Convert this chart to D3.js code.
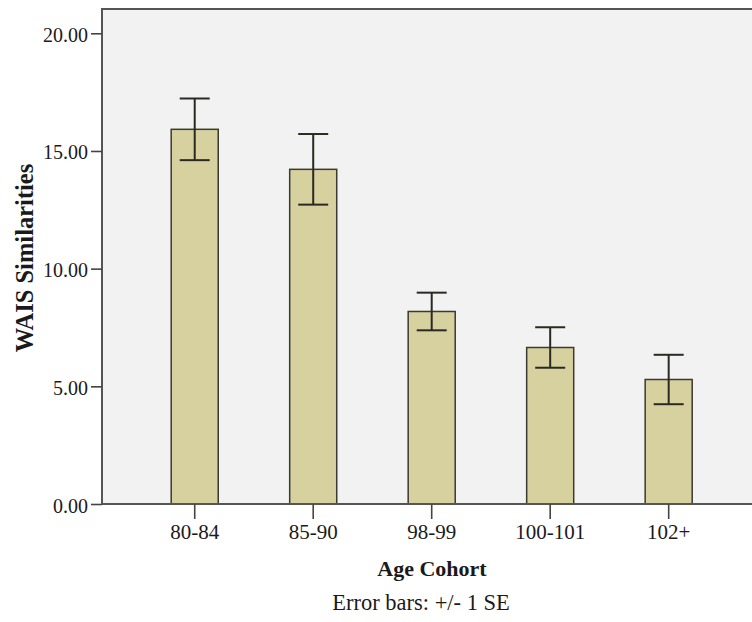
<!DOCTYPE html>
<html>
<head>
<meta charset="utf-8">
<script src="https://cdn.jsdelivr.net/npm/d3@7/dist/d3.min.js"></script>
<style>
  html, body { margin: 0; padding: 0; background: #ffffff; }
  svg { display: block; }
  text { font-family: "Liberation Serif", "Times New Roman", serif; fill: #1a1a1a; }
</style>
</head>
<body>
<svg id="chart" width="752" height="622"></svg>
<script>
// Mean WAIS Similarities score per age cohort, with standard errors
const cohorts = ["80-84", "85-90", "98-99", "100-101", "102+"];
const means = [15.92, 14.22, 8.18, 6.65, 5.29];
const stdErrors = [1.31, 1.50, 0.80, 0.86, 1.05];
const yTicks = [0, 5, 10, 15, 20];

const svg = d3.select("#chart");

const plot = { left: 102, top: 9, bottom: 504, right: 761.4 };

const x = d3.scaleBand()
  .domain(cohorts)
  .range([plot.left, plot.right])
  .paddingInner(0.603)
  .paddingOuter(0.584);

const y = d3.scaleLinear()
  .domain([0, 20])
  .range([plot.bottom, 33.3]);

// plot background
svg.append("rect")
  .attr("x", plot.left)
  .attr("y", plot.top)
  .attr("width", plot.right - plot.left)
  .attr("height", plot.bottom - plot.top)
  .attr("fill", "#f2f2f2");

const data = cohorts.map((c, i) => ({ cohort: c, mean: means[i], se: stdErrors[i] }));

// bars
svg.append("g")
  .selectAll("rect")
  .data(data)
  .join("rect")
  .attr("x", d => x(d.cohort))
  .attr("y", d => y(d.mean))
  .attr("width", x.bandwidth())
  .attr("height", d => y(0) - y(d.mean))
  .attr("fill", "#d6d19e")
  .attr("stroke", "#3a3a30")
  .attr("stroke-width", 1.5);

// error bars (+/- 1 SE)
const capHalf = 15;
const eb = svg.append("g")
  .attr("stroke", "#2a2a22")
  .attr("stroke-width", 2)
  .attr("fill", "none");

data.forEach(d => {
  const cx = x(d.cohort) + x.bandwidth() / 2;
  const yTop = y(d.mean + d.se);
  const yBot = y(d.mean - d.se);
  eb.append("line").attr("x1", cx).attr("x2", cx).attr("y1", yTop).attr("y2", yBot);
  eb.append("line").attr("x1", cx - capHalf).attr("x2", cx + capHalf).attr("y1", yTop).attr("y2", yTop);
  eb.append("line").attr("x1", cx - capHalf).attr("x2", cx + capHalf).attr("y1", yBot).attr("y2", yBot);
});

// frame (left and top edges)
svg.append("path")
  .attr("d", `M${plot.left},${plot.bottom}V${plot.top}H${plot.right}`)
  .attr("fill", "none")
  .attr("stroke", "#555")
  .attr("stroke-width", 2);

// y axis
const yAxis = svg.append("g")
  .attr("transform", `translate(${plot.left},0)`)
  .call(d3.axisLeft(y).tickValues(yTicks).tickFormat(d3.format(".2f")).tickSize(11).tickPadding(3));
yAxis.select(".domain").remove();
yAxis.selectAll(".tick line").attr("stroke", "#444").attr("stroke-width", 1.6);
yAxis.selectAll(".tick text")
  .attr("font-size", 20)
  .attr("fill", "#1a1a2a")
  .attr("dy", "0.4em")
  .style("font-family", "'Liberation Serif', serif");

// x axis
const xAxis = svg.append("g")
  .attr("transform", `translate(0,${plot.bottom})`)
  .call(d3.axisBottom(x).tickSize(15).tickPadding(5));
xAxis.select(".domain")
  .attr("d", `M${plot.left},0H${plot.right}`)
  .attr("stroke", "#555")
  .attr("stroke-width", 2);
xAxis.selectAll(".tick line").attr("stroke", "#444").attr("stroke-width", 1.6);
xAxis.selectAll(".tick text")
  .attr("font-size", 21)
  .attr("fill", "#1a1a2a")
  .style("font-family", "'Liberation Serif', serif");

// axis titles
svg.append("text")
  .attr("x", 432)
  .attr("y", 576)
  .attr("text-anchor", "middle")
  .attr("font-size", 22)
  .attr("font-weight", "bold")
  .text("Age Cohort");

svg.append("text")
  .attr("x", 421)
  .attr("y", 610)
  .attr("text-anchor", "middle")
  .attr("font-size", 22.5)
  .text("Error bars: +/- 1 SE");

svg.append("text")
  .attr("transform", "translate(33,258) rotate(-90)")
  .attr("text-anchor", "middle")
  .attr("font-size", 24.5)
  .attr("font-weight", "bold")
  .text("WAIS Similarities");
</script>
</body>
</html>
